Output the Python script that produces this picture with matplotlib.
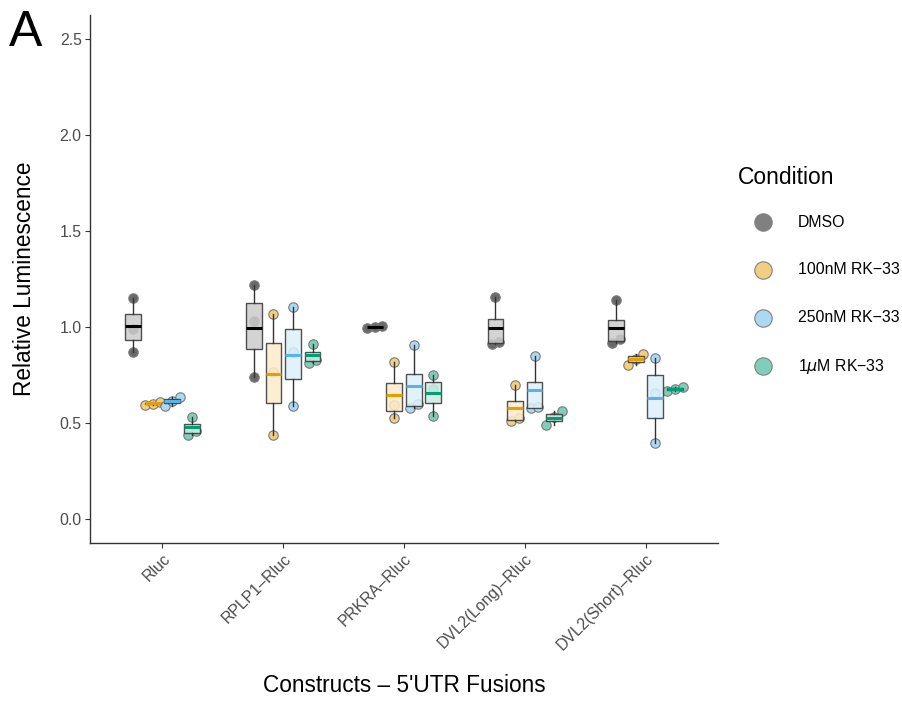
"""
Relative luminescence of 5'UTR fusion constructs under RK-33 treatment.
"""
import numpy as np
import matplotlib
matplotlib.use("Agg")
import matplotlib.pyplot as plt
from matplotlib.cbook import boxplot_stats
from matplotlib.lines import Line2D

plt.rcParams['font.family'] = ['Liberation Sans', 'DejaVu Sans']

# Data: three replicates per construct and condition (normalised to DMSO mean)
constructs = ['Rluc', 'RPLP1\u2013Rluc', 'PRKRA\u2013Rluc',
              'DVL2(Long)\u2013Rluc', 'DVL2(Short)\u2013Rluc']
conditions = ['DMSO', '100nM RK\u221233', '250nM RK\u221233', '1$\\mu$M RK\u221233']

dmso = [[0.87, 0.99, 1.15],
        [0.74, 1.03, 1.22],
        [0.995, 1.00, 1.005],
        [0.912, 0.924, 1.156],
        [0.915, 0.935, 1.14]]
rk100 = [[0.595, 0.60, 0.61],
         [0.437, 0.767, 1.069],
         [0.528, 0.596, 0.818],
         [0.51, 0.525, 0.70],
         [0.80, 0.835, 0.86]]
rk250 = [[0.59, 0.615, 0.635],
         [0.589, 0.872, 1.106],
         [0.578, 0.60, 0.906],
         [0.578, 0.582, 0.849],
         [0.398, 0.655, 0.84]]
rk1000 = [[0.44, 0.46, 0.53],
          [0.815, 0.83, 0.91],
          [0.536, 0.676, 0.752],
          [0.49, 0.53, 0.56],
          [0.665, 0.675, 0.685]]
series = [dmso, rk100, rk250, rk1000]

# Colours: line colour, box fill, point fill
line_cols = ['#000000', '#E69F00', '#56B4E9', '#009E73']
fill_cols = ['#CCCCCC', '#FBECCC', '#DDF0FB', '#CCECE3']
point_cols = ['#6A6A6A', '#F2CF80', '#ABD9F4', '#7FCEB9']


def swarm_offsets(values, yspan=0.045, step=0.064):
    """Spread nearly tied values sideways like a small beeswarm."""
    order = np.argsort(values)
    vals = np.asarray(values)[order]
    offs = np.zeros(len(vals))
    start = 0
    for i in range(1, len(vals) + 1):
        if i == len(vals) or vals[i] - vals[i - 1] > yspan:
            n = i - start
            for k in range(n):
                offs[start + k] = (k - (n - 1) / 2) * step
            start = i
    out = np.zeros(len(vals))
    out[order] = offs
    return out


fig = plt.figure(figsize=(9.03, 7.04), dpi=100)
ax = fig.add_axes([90 / 903, 1 - 543 / 704, 628 / 903, 528 / 704])

x = np.arange(1, len(constructs) + 1)
box_w = 0.13
for ci, data in enumerate(series):
    pos = x + (ci - 1.5) * 0.162
    for gi, vals in enumerate(data):
        xs = pos[gi] + swarm_offsets(vals)
        ax.scatter(xs, vals, s=46, facecolor=point_cols[ci],
                   edgecolor='#7A7A7A', linewidth=0.8, zorder=2)
    stats = boxplot_stats(data, whis=1.5)
    for st, vals in zip(stats, data):
        st['med'] = np.mean(vals)
        st['fliers'] = []
    ax.bxp(stats, positions=pos, widths=box_w, patch_artist=True,
           showcaps=False, showfliers=False, manage_ticks=False,
           boxprops=dict(facecolor=fill_cols[ci], edgecolor='#333333',
                         linewidth=1.0, alpha=0.85),
           whiskerprops=dict(color='#333333', linewidth=1.0),
           medianprops=dict(color=line_cols[ci], linewidth=2.2,
                            solid_capstyle='butt'),
           zorder=3)

ax.set_xlim(0.4, len(constructs) + 0.6)
ax.set_ylim(-0.125, 2.625)
ax.set_yticks([0.0, 0.5, 1.0, 1.5, 2.0, 2.5])
ax.set_yticklabels(['0.0', '0.5', '1.0', '1.5', '2.0', '2.5'])
ax.set_xticks(x)
ax.set_xticklabels(constructs, rotation=45, ha='right', va='top',
                   rotation_mode='anchor')
for s in ['top', 'right']:
    ax.spines[s].set_visible(False)
for s in ['left', 'bottom']:
    ax.spines[s].set_color('#333333')
    ax.spines[s].set_linewidth(1.0)
ax.tick_params(axis='both', direction='out', length=3.5, width=0.8,
               color='#333333', labelcolor='#4D4D4D', labelsize=11.4, pad=2.5)

# Axis titles placed on the figure
fig.text(24.5 / 903, 1 - 279 / 704, 'Relative Luminescence', fontsize=16.3,
         rotation=90, ha='center', va='center')
fig.text(404 / 903, 1 - 686 / 704, "Constructs \u2013 5'UTR Fusions",
         fontsize=16.3, ha='center', va='center')

fig.text(9 / 903, 1 - 33 / 704, 'A', fontsize=36, va='center', ha='left')

# Legend drawn by hand on the figure
fig.text(738 / 903, 1 - 178 / 704, 'Condition', fontsize=16.5,
         va='center', ha='left')
for i, lab in enumerate(conditions):
    yy = 1 - (222 + 48 * i) / 704
    fig.add_artist(Line2D([763 / 903], [yy], transform=fig.transFigure,
                          marker='o', markersize=12.5, linestyle='none',
                          markerfacecolor=point_cols[i] if i else '#808080',
                          markeredgecolor='#808080',
                          markeredgewidth=0.8))
    fig.text(798 / 903, yy, lab, fontsize=11.4, va='center', ha='left')

fig.savefig('out.png', dpi=100)
